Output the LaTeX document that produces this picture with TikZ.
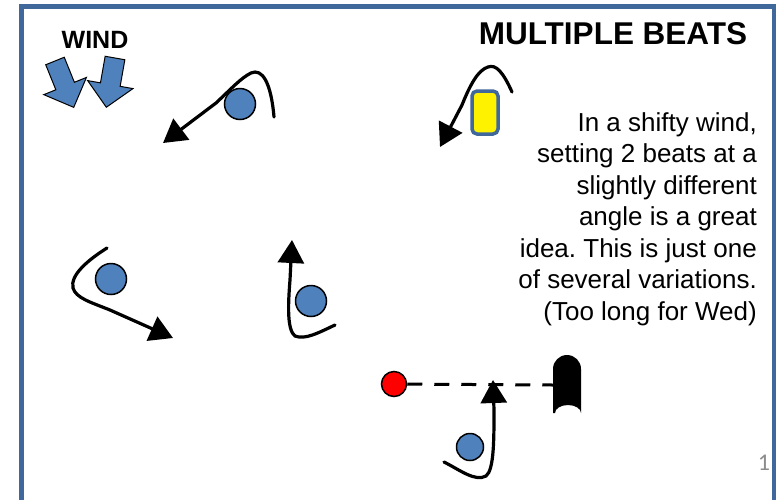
\documentclass[tikz,border=0pt]{standalone}
\usepackage{fontspec}
\setmainfont{Liberation Sans}
\newfontfamily\pagefont{Carlito}
\usetikzlibrary{arrows.meta}
\definecolor{framecol}{HTML}{41689B}
\definecolor{boatcol}{HTML}{4F81BD}
\frenchspacing
\tikzset{
	boat/.style={circle,draw=black,line width=1.5pt,fill=boatcol,minimum size=31pt,inner sep=0pt},
	course/.style={line width=3.2pt,line cap=round,-{Triangle[length=23pt,width=26pt]}},
	windarrow/.style={draw=black,line width=1pt,fill=boatcol,line join=miter},
}
\begin{document}
\begin{tikzpicture}[x=1pt,y=-1pt]
	
	\useasboundingbox (0,0) rectangle (776,499);
	\fill[white] (0,0) rectangle (776,499);
	\draw[framecol,line width=4.5pt] (21.5,520) -- (21.5,6.5) -- (774.5,6.5) -- (774.5,520);
	
	% wind
	\node[font=\bfseries\fontsize{25}{28}\selectfont] (wind) at (95,40) {WIND};
	\begin{scope}[shift={(55,61)},rotate=22]
		\path[windarrow] (-10,0) -- (10,0) -- (10,27) -- (23,27) -- (0,50) -- (-23,27) -- (-10,27) -- cycle;
	\end{scope}
	\begin{scope}[shift={(115,58)},rotate=-10]
		\path[windarrow] (-10,0) -- (10,0) -- (10,27) -- (23,27) -- (0,50) -- (-23,27) -- (-10,27) -- cycle;
	\end{scope}
	
	\node[font=\bfseries\fontsize{31.5}{34}\selectfont] (title) at (613,34) {MULTIPLE BEATS};
	\node[anchor=north east,inner sep=0pt,align=right,font=\fontsize{26}{31.5}\selectfont] (note) at (757,112)
		{In a shifty wind,\\setting 2 beats at a\\slightly different\\angle is a great\\idea. This is just one\\of several variations.\\(Too long for Wed)};
	\node[font=\pagefont\fontsize{24}{28}\selectfont,text=black!45] (page) at (764,463) {1};
	
	% boats
	\node[boat] (b1) at (240,104) {};
	\node[boat] (b2) at (111,279) {};
	\node[boat] (b3) at (311,301) {};
	\node[boat,minimum size=27pt] (b4) at (470,447) {};
	\draw[framecol,line width=3.5pt,fill=yellow,rounded corners=5pt] (472,91) rectangle (498,134);
	\coordinate (cmt) at (485,112);
	
	% courses
	\draw[course] (274,117) .. controls (271,82) and (262,68) .. (251,73) .. controls (241,78) and (232,88) .. (216,103) -- (163,143);
	\draw[course] (512,92) .. controls (503,72) and (496,64) .. (488,67) .. controls (478,70) and (470,85) .. (462,105) -- (440,147);
	\draw[course] (107,248) .. controls (88,260) and (70,275) .. (73,288) .. controls (76,298) and (90,302) .. (110,310) -- (173,338);
	\draw[course] (335,325) .. controls (318,333) and (305,340) .. (295,336) .. controls (287,330) and (288,305) .. (290,280) -- (292,240);
	\draw[course] (444,462) .. controls (460,470) and (475,482) .. (486,476) .. controls (494,470) and (494,440) .. (494,410) -- (493,380);
	
	% line
	\node[circle,draw=black,line width=1.5pt,fill=red,minimum size=25pt,inner sep=0pt] (pin) at (394,384) {};
	\fill[black] (553,413) -- (553,369) arc[start angle=180,end angle=360,radius=14] -- (581,413)
		arc[start angle=0,end angle=-180,x radius=13,y radius=8] -- cycle;
	\coordinate (mark) at (553,385);
	\draw[line width=3pt,dash pattern=on 15pt off 12pt] (pin) -- (mark);
	
\end{tikzpicture}
\end{document}
